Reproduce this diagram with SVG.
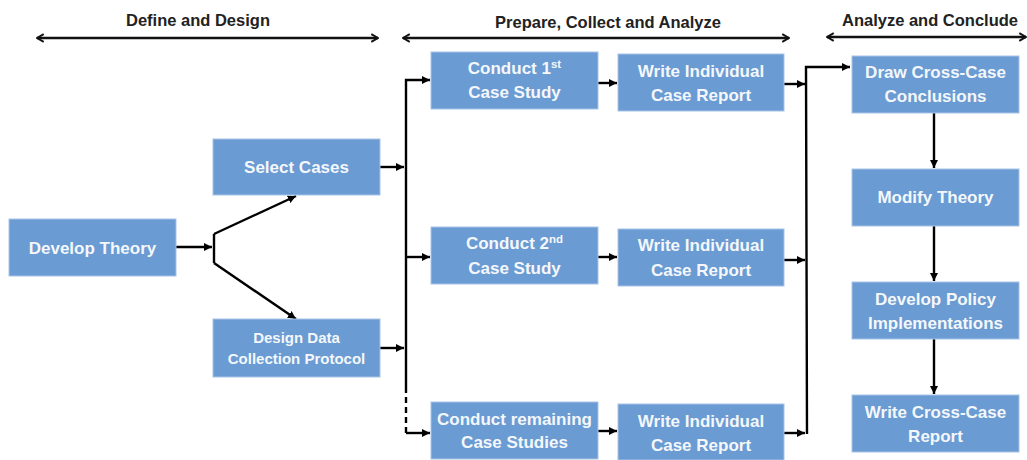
<svg xmlns="http://www.w3.org/2000/svg" width="1027" height="460" viewBox="0 0 1027 460">
<style>
.box{fill:#6A9BD2;stroke:#A9C4E6;stroke-width:1}
.t{font-family:"Liberation Sans",Arial,sans-serif;font-weight:bold;fill:#F4F7FB;font-size:17px;text-anchor:middle}
.s{font-size:15px}
.h{font-family:"Liberation Sans",Arial,sans-serif;font-weight:bold;fill:#222222;font-size:16.5px;text-anchor:middle}
.c{fill:none;stroke:#000000;stroke-width:2.4}
.a{marker-end:url(#ah)}
.hd{fill:none;stroke:#111111;stroke-width:2.4;marker-start:url(#cs);marker-end:url(#ce)}
</style>
<defs>
<marker id="ah" viewBox="0 0 10 10" refX="10" refY="5" markerWidth="3.4" markerHeight="3.4" orient="auto" markerUnits="strokeWidth"><path d="M0,0 L10,5 L0,10 z" fill="#000"/></marker>
<marker id="ce" viewBox="0 0 10 10" refX="9" refY="5" markerWidth="4" markerHeight="4" orient="auto" markerUnits="strokeWidth"><path d="M2,1 L9,5 L2,9" fill="none" stroke="#111" stroke-width="2"/></marker>
<marker id="cs" viewBox="0 0 10 10" refX="1" refY="5" markerWidth="4" markerHeight="4" orient="auto" markerUnits="strokeWidth"><path d="M8,1 L1,5 L8,9" fill="none" stroke="#111" stroke-width="2"/></marker>
</defs>
<g id="headers">
<text class="h" x="198" y="26">Define and Design</text>
<line class="hd" x1="37" y1="38" x2="378" y2="38"/>
<text class="h" x="608" y="28">Prepare, Collect and Analyze</text>
<line class="hd" x1="403" y1="38" x2="789" y2="38"/>
<text class="h" x="930" y="26">Analyze and Conclude</text>
<line class="hd" x1="827" y1="37" x2="1026" y2="37"/>
</g>
<g id="connectors">
<line class="c a" x1="176" y1="247" x2="212" y2="247"/>
<line class="c" x1="214" y1="234" x2="214" y2="263"/>
<line class="c a" x1="214" y1="234" x2="296" y2="196"/>
<line class="c a" x1="214" y1="263" x2="296" y2="319"/>
<line class="c a" x1="380" y1="167" x2="404" y2="167"/>
<line class="c a" x1="380" y1="348" x2="404" y2="348"/>
<polyline class="c a" points="406,387 406,80 430,80"/>
<line class="c a" x1="406" y1="257" x2="430" y2="257"/>
<line class="c" x1="406" y1="387" x2="406" y2="433" stroke-dasharray="6,4"/>
<line class="c a" x1="406" y1="433" x2="430" y2="433"/>
<line class="c a" x1="598" y1="83" x2="617" y2="83"/>
<line class="c a" x1="598" y1="257" x2="617" y2="257"/>
<line class="c a" x1="598" y1="431" x2="617" y2="431"/>
<line class="c a" x1="784" y1="84" x2="805" y2="84"/>
<line class="c a" x1="784" y1="260" x2="805" y2="260"/>
<line class="c a" x1="784" y1="433" x2="805" y2="433"/>
<polyline class="c a" points="807,434 806,67 850,67"/>
<line class="c a" x1="934" y1="113" x2="934" y2="168"/>
<line class="c a" x1="934" y1="226" x2="934" y2="281"/>
<line class="c a" x1="934" y1="339" x2="934" y2="394"/>
</g>
<g id="develop-theory"><rect class="box" x="9" y="219" width="167" height="57"/><text class="t" x="92.5" y="253.5">Develop Theory</text></g>
<g id="select-cases"><rect class="box" x="213" y="139" width="167" height="56"/><text class="t" x="296.5" y="173">Select Cases</text></g>
<g id="design-data"><rect class="box" x="213" y="319" width="167" height="58"/><text class="t s" x="296.5" y="343">Design Data</text><text class="t s" x="296.5" y="364">Collection  Protocol</text></g>
<g id="conduct-1"><rect class="box" x="431" y="52" width="167" height="57"/><text class="t" x="514.5" y="74">Conduct 1<tspan font-size="11.5" dy="-6">st</tspan></text><text class="t" x="514.5" y="98">Case Study</text></g>
<g id="write-1"><rect class="box" x="618" y="54" width="166" height="57"/><text class="t" x="701" y="77">Write Individual</text><text class="t" x="701" y="101">Case Report</text></g>
<g id="conduct-2"><rect class="box" x="431" y="227" width="167" height="57"/><text class="t" x="514.5" y="249">Conduct 2<tspan font-size="11.5" dy="-6">nd</tspan></text><text class="t" x="514.5" y="274">Case Study</text></g>
<g id="write-2"><rect class="box" x="618" y="229" width="166" height="57"/><text class="t" x="701" y="251">Write Individual</text><text class="t" x="701" y="276">Case Report</text></g>
<g id="conduct-remaining"><rect class="box" x="431" y="402" width="167" height="57"/><text class="t" x="514.5" y="425">Conduct remaining</text><text class="t" x="514.5" y="448">Case Studies</text></g>
<g id="write-3"><rect class="box" x="618" y="404" width="166" height="56"/><text class="t" x="701" y="427">Write Individual</text><text class="t" x="701" y="451">Case Report</text></g>
<g id="draw-conclusions"><rect class="box" x="852" y="56" width="167" height="57"/><text class="t" x="935.5" y="78">Draw Cross-Case</text><text class="t" x="935.5" y="102">Conclusions</text></g>
<g id="modify-theory"><rect class="box" x="852" y="169" width="167" height="57"/><text class="t" x="935.5" y="203">Modify Theory</text></g>
<g id="develop-policy"><rect class="box" x="852" y="282" width="167" height="57"/><text class="t" x="935.5" y="305">Develop Policy</text><text class="t" x="935.5" y="329">Implementations</text></g>
<g id="write-cross-case"><rect class="box" x="852" y="395" width="167" height="57"/><text class="t" x="935.5" y="418">Write Cross-Case</text><text class="t" x="935.5" y="442">Report</text></g>
</svg>
